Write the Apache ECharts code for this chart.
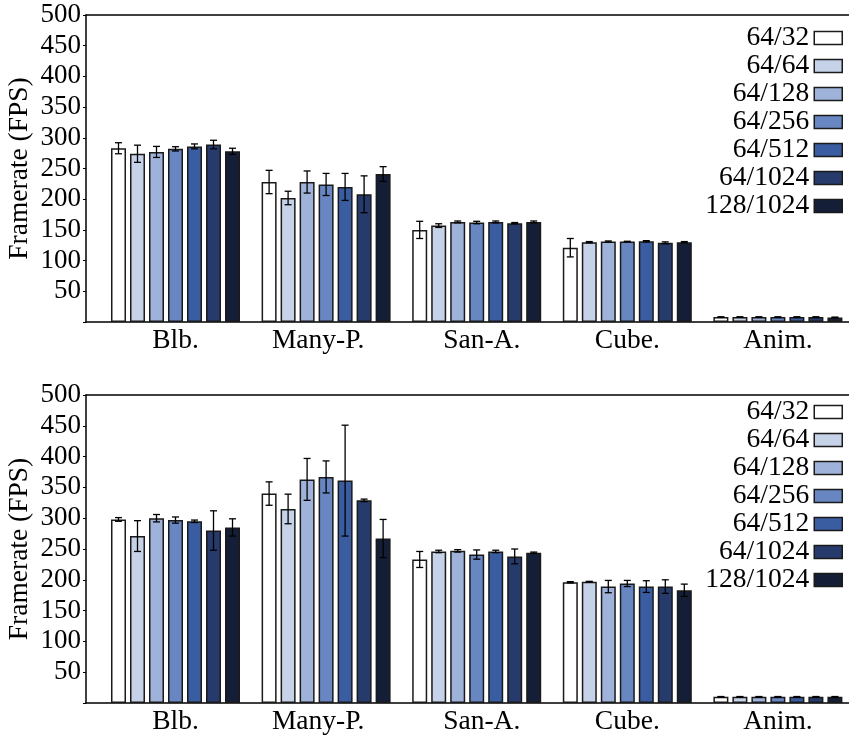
<!DOCTYPE html>
<html>
<head>
<meta charset="utf-8">
<script src="https://cdn.jsdelivr.net/npm/echarts@6/dist/echarts.min.js"></script>
<style>html,body{margin:0;padding:0;background:#fff}#c{width:849px;height:736px}</style>
</head>
<body>
<div id="c"></div>
<script>
// ---------- data ----------
const categories = ['Blb.', 'Many-P.', 'San-A.', 'Cube.', 'Anim.'];
const seriesNames = ['64/32', '64/64', '64/128', '64/256', '64/512', '64/1024', '128/1024'];
const yTicks = [0, 50, 100, 150, 200, 250, 300, 350, 400, 450, 500];

// top panel: mean framerate and error per configuration
const top_64_32      = [283, 228, 150, 121, 8];
const top_64_32_err  = [9, 19, 14, 15, 0.5];
const top_64_64      = [274, 202, 157, 130, 8];
const top_64_64_err  = [14, 11, 3, 1, 0.5];
const top_64_128     = [277, 228, 163, 131, 8];
const top_64_128_err = [9, 18, 1.5, 1, 0.5];
const top_64_256     = [282, 224, 162, 131, 8];
const top_64_256_err = [3.5, 18, 2, 0.5, 0.5];
const top_64_512     = [286, 220, 163, 131.5, 8];
const top_64_512_err = [4, 22, 1.5, 1, 0.5];
const top_64_1024     = [289, 208, 161, 129, 8];
const top_64_1024_err = [7, 30, 1, 1.5, 0.5];
const top_128_1024     = [278, 241, 163, 130, 7.5];
const top_128_1024_err = [5, 12, 1.5, 1, 0.5];

// bottom panel
const bot_64_32      = [298, 340, 233, 196, 10];
const bot_64_32_err  = [3, 19, 13, 1, 0.5];
const bot_64_64      = [271, 315, 246, 197, 10];
const bot_64_64_err  = [25, 24, 2, 0.5, 0.5];
const bot_64_128     = [300, 363, 247, 189, 10];
const bot_64_128_err = [6, 34, 2, 10, 0.5];
const bot_64_256     = [297, 367, 241, 194, 10];
const bot_64_256_err = [5, 26, 7.5, 5, 0.5];
const bot_64_512     = [295, 361, 246, 189, 10];
const bot_64_512_err = [2, 90, 2, 9.5, 0.5];
const bot_64_1024     = [280, 329, 238, 189, 10];
const bot_64_1024_err = [32, 2, 12, 11, 0.5];
const bot_128_1024     = [285, 267, 244, 183, 10];
const bot_128_1024_err = [14, 31, 1, 10, 0.5];

const topMeans = [top_64_32, top_64_64, top_64_128, top_64_256, top_64_512, top_64_1024, top_128_1024];
const topErrs  = [top_64_32_err, top_64_64_err, top_64_128_err, top_64_256_err, top_64_512_err, top_64_1024_err, top_128_1024_err];
const botMeans = [bot_64_32, bot_64_64, bot_64_128, bot_64_256, bot_64_512, bot_64_1024, bot_128_1024];
const botErrs  = [bot_64_32_err, bot_64_64_err, bot_64_128_err, bot_64_256_err, bot_64_512_err, bot_64_1024_err, bot_128_1024_err];

// ---------- styles ----------
const colors = ['#ffffff', '#c6d2e8', '#9fb3da', '#6886c2', '#3a5ca0', '#263b6b', '#141e36'];
const FONT = 'Liberation Serif';
const FS = 27.5;
const BAR_W = 15, BAR_PITCH = 19;

const chart = echarts.init(document.getElementById('c'), null, {renderer: 'canvas'});

const panels = [
  {top: 15, height: 307, legendTop: 24},
  {top: 395, height: 308, legendTop: 398}
];

const grid = [], xAxis = [], yAxis = [], series = [], legend = [];

panels.forEach((p, pi) => {
  const gFrame = grid.length;
  grid.push({left: 86, width: 770, top: p.top, height: p.height, containLabel: false, outerBoundsMode: 'none'});
  const gBars = grid.length;
  grid.push({left: 100.2, width: 753, top: p.top, height: p.height, containLabel: false, outerBoundsMode: 'none'});

  // frame axes
  xAxis.push({gridIndex: gFrame, type: 'value', min: 0, max: 1, position: 'bottom',
    axisLine: {onZero: false, lineStyle: {color: '#000', width: 1.5}},
    axisTick: {show: false}, axisLabel: {show: false}, splitLine: {show: false}});
  xAxis.push({gridIndex: gFrame, type: 'value', min: 0, max: 1, position: 'top',
    axisLine: {onZero: false, lineStyle: {color: '#000', width: 1.5}},
    axisTick: {show: false}, axisLabel: {show: false}, splitLine: {show: false}});
  const xBars = xAxis.length;
  xAxis.push({gridIndex: gBars, type: 'category', data: categories, position: 'bottom',
    axisLine: {show: false}, axisTick: {show: false}, splitLine: {show: false},
    axisLabel: {show: true, interval: 0, margin: 5, color: '#000', fontFamily: FONT, fontSize: FS,
      formatter: function (v) {
        if (v === 'Many-P.') return '{l|' + v + '}';
        if (v === 'San-A.') return '{r|' + v + '}';
        return v;
      },
      rich: {
        l: {fontFamily: FONT, fontSize: FS, color: '#000', padding: [0, 16, 0, 0]},
        r: {fontFamily: FONT, fontSize: FS, color: '#000', padding: [0, 0, 0, 10]}
      }}});

  yAxis.push({gridIndex: gFrame, type: 'value', min: yTicks[0], max: yTicks[yTicks.length - 1],
    interval: yTicks[1] - yTicks[0],
    name: 'Framerate (FPS)', nameLocation: 'middle', nameGap: 52, nameMoveOverlap: false,
    nameTextStyle: {fontFamily: FONT, fontSize: FS, color: '#000'},
    axisLine: {show: true, onZero: false, lineStyle: {color: '#000', width: 1.5}},
    axisTick: {show: true, inside: false, length: 3, lineStyle: {color: '#000', width: 1}},
    splitLine: {show: false},
    axisLabel: {margin: 5, color: '#000', fontFamily: FONT, fontSize: 27,
      formatter: v => (v === 0 ? '' : String(v))}});
  const yBars = yAxis.length;
  yAxis.push({gridIndex: gBars, type: 'value', min: yTicks[0], max: yTicks[yTicks.length - 1],
    show: false, splitLine: {show: false}});

  const means = pi === 0 ? topMeans : botMeans;
  const errs = pi === 0 ? topErrs : botErrs;

  seriesNames.forEach((name, si) => {
    series.push({
      type: 'bar', name: name, xAxisIndex: xBars, yAxisIndex: yBars,
      data: means[si], barWidth: BAR_W, barGap: ((BAR_PITCH - BAR_W) / BAR_W * 100) + '%',
      itemStyle: {color: colors[si], borderColor: '#1a1a1a', borderWidth: 1.5},
      emphasis: {disabled: true}, z: 2
    });
  });

  const errData = [];
  seriesNames.forEach((name, si) => {
    categories.forEach((c, ci) => {
      errData.push([ci, means[si][ci], errs[si][ci], si]);
    });
  });

  series.push({
    type: 'custom', xAxisIndex: xBars, yAxisIndex: yBars, z: 5, silent: true,
    data: errData,
    encode: {x: 0, y: 1},
    renderItem: function (params, api) {
      const ci = api.value(0), m = api.value(1), e = api.value(2), si = api.value(3);
      const off = (si - (seriesNames.length - 1) / 2) * BAR_PITCH;
      const hi = api.coord([ci, m + e]);
      const lo = api.coord([ci, m - e]);
      const x = hi[0] + off;
      const cap = 3.5;
      const st = {stroke: '#000', lineWidth: 1.3};
      return {type: 'group', children: [
        {type: 'line', shape: {x1: x, y1: hi[1], x2: x, y2: lo[1]}, style: st},
        {type: 'line', shape: {x1: x - cap, y1: hi[1], x2: x + cap, y2: hi[1]}, style: st},
        {type: 'line', shape: {x1: x - cap, y1: lo[1], x2: x + cap, y2: lo[1]}, style: st}
      ]};
    }
  });

  legend.push({
    orient: 'vertical', right: 6, top: p.legendTop, align: 'right', padding: 0,
    itemWidth: 28, itemHeight: 13, itemGap: 0, icon: 'rect',
    selectedMode: false,
    data: seriesNames,
    textStyle: {fontFamily: FONT, fontSize: FS, color: '#000', lineHeight: 24},
    itemStyle: {borderColor: '#1a1a1a', borderWidth: 1.5}
  });
});

chart.setOption({
  animation: false,
  backgroundColor: '#fff',
  grid: grid, xAxis: xAxis, yAxis: yAxis, legend: legend, series: series
});
</script>
</body>
</html>
